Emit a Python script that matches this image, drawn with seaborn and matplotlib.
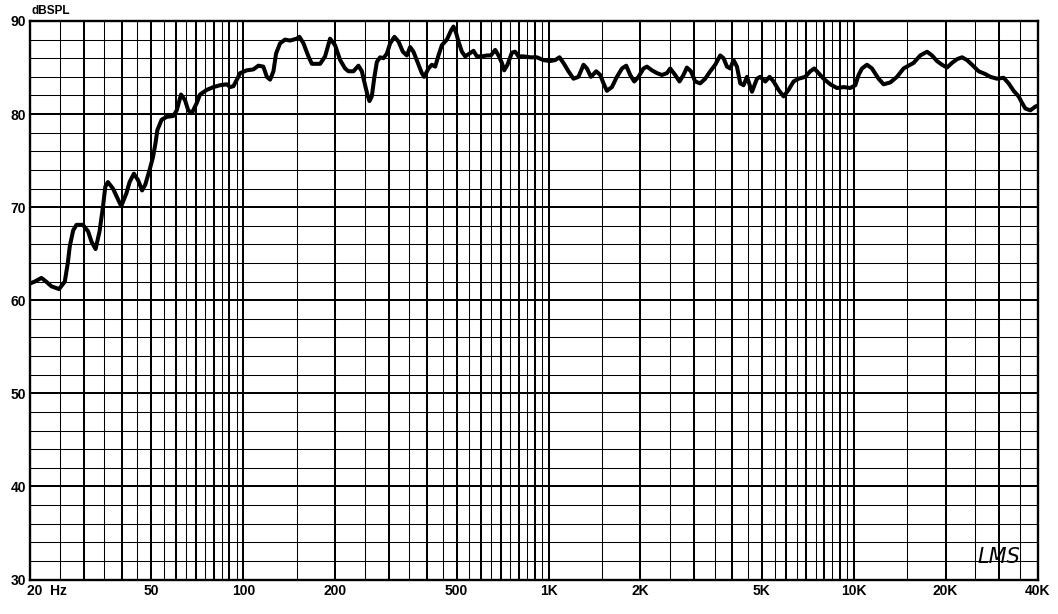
import numpy as np
import pandas as pd
import matplotlib
matplotlib.use("Agg")
import matplotlib.pyplot as plt
from matplotlib.ticker import NullLocator
import seaborn as sns

# ---------------- data ----------------
freq_hz = [20, 20.7, 21.8, 22.6, 23.5, 24.9, 26.0, 26.6, 27.0, 27.7, 28.4, 29.8, 31.0, 31.8,
           32.8, 33.8, 34.7, 35.3, 36.0, 37.4, 38.9, 39.8, 41.4, 42.4, 43.8, 45.2, 46.6, 47.7,
           49.3, 50.6, 51.5, 52.3, 54.0, 56.1, 59.0, 60.5, 62.5, 64.4, 66.0, 67.8, 70.4, 72.1,
           75.9, 79.8, 83.9, 88.3, 90.5, 92.8, 95.6, 97.6, 102.6, 107.9, 112.0, 116.3, 119.4,
           122.4, 125.5, 128.0, 131.9, 137.0, 142.3, 145.9, 149.7, 152.7, 157.4, 163.4, 167.7,
           178.5, 185.3, 192.4, 199.8, 207.6, 215.5, 221.0, 229.5, 238.3, 244.5, 250.6, 255.0,
           258.9, 263.6, 268.3, 273.8, 280.7, 287.8, 295.3, 302.7, 312.7, 322.3, 333.2, 343.4,
           352.0, 360.9, 372.0, 384.5, 391.3, 404.2, 414.7, 425.2, 435.9, 447.2, 464.4, 479.7,
           488.1, 498.2, 506.9, 520.1, 533.2, 550.8, 567.6, 582.4, 604.8, 628.1, 647.3, 668.7,
           685.5, 703.3, 715.6, 733.6, 758.4, 777.5, 797.1, 827.8, 870.7, 915.8, 962.5, 1012,
           1051, 1086, 1119, 1162, 1207, 1253, 1302, 1336, 1377, 1433, 1477, 1514, 1553, 1613,
           1675, 1740, 1797, 1852, 1909, 1971, 2047, 2101, 2182, 2266, 2353, 2443, 2504, 2600,
           2686, 2768, 2840, 2927, 3024, 3140, 3261, 3387, 3517, 3652, 3745, 3842, 3939, 4038,
           4143, 4248, 4355, 4468, 4640, 4818, 4940, 5130, 5299, 5462, 5671, 5889, 6115, 6350,
           6594, 6937, 7204, 7425, 7670, 7965, 8378, 8812, 9268, 9742, 10117, 10372, 10641,
           11050, 11475, 12061, 12525, 13173, 13856, 14564, 15123, 15705, 16520, 17377, 18045,
           18739, 19459, 20207, 20989, 21796, 22634, 23505, 24407, 25654, 26985, 28023, 29475,
           30981, 32172, 33410, 34695, 35597, 36494, 37895, 39351, 40000]

spl_db = [61.8, 62.0, 62.4, 62.0, 61.5, 61.2, 62.0, 64.0, 65.8, 67.5, 68.1, 68.1, 67.4, 66.3,
          65.5, 67.4, 70.1, 72.2, 72.7, 72.0, 70.8, 70.1, 71.5, 72.7, 73.6, 72.9, 71.8, 72.4,
          74.0, 75.4, 76.8, 78.3, 79.4, 79.7, 79.8, 80.4, 82.1, 81.5, 80.4, 80.1, 81.2, 82.1,
          82.6, 82.9, 83.1, 83.2, 82.9, 83.0, 83.8, 84.4, 84.7, 84.8, 85.2, 85.1, 84.0,
          83.7, 84.6, 86.5, 87.6, 88.0, 87.9, 88.0, 88.1, 88.3, 87.6, 86.2, 85.4,
          85.4, 86.2, 88.1, 87.4, 85.8, 84.9, 84.6, 84.6, 85.2, 84.6, 83.1, 82.1,
          81.4, 81.9, 83.8, 85.6, 86.1, 86.0, 86.5, 87.6, 88.3, 87.8, 86.7, 86.3,
          87.2, 86.7, 85.6, 84.4, 84.0, 84.9, 85.3, 85.1, 86.3, 87.4, 88.0, 89.0,
          89.4, 88.7, 87.8, 86.7, 86.2, 86.5, 86.8, 86.2, 86.2, 86.3, 86.3, 86.9,
          86.3, 85.5, 84.7, 85.3, 86.6, 86.7, 86.2, 86.2, 86.1, 86.1, 85.8, 85.7,
          85.8, 86.1, 85.5, 84.6, 83.8, 84.0, 85.3, 84.9, 84.0, 84.6, 84.2, 83.3, 82.5, 82.9,
          84.0, 84.9, 85.2, 84.2, 83.5, 84.0, 84.9, 85.1, 84.7, 84.4, 84.2, 84.4, 84.9, 84.2,
          83.5, 84.2, 85.0, 84.6, 83.5, 83.3, 83.8, 84.6, 85.3, 86.3, 86.0, 85.1, 84.9, 85.8,
          85.1, 83.3, 83.1, 84.0, 82.4, 83.8, 84.0, 83.5, 84.0, 83.5, 82.6, 81.9, 82.6, 83.5,
          83.8, 84.0, 84.6, 84.9, 84.4, 83.8, 83.2, 82.8, 82.9, 82.8, 83.1, 84.2, 84.9,
          85.3, 84.9, 83.8, 83.2, 83.4, 84.0, 84.9, 85.2, 85.5, 86.3, 86.7, 86.3,
          85.7, 85.3, 85.0, 85.5, 85.9, 86.1, 85.8, 85.3, 84.6, 84.3, 84.0, 83.8,
          83.9, 83.3, 82.5, 81.9, 81.2, 80.6, 80.4, 80.8, 80.9]

x_tick_values = [20, 50, 100, 200, 500, 1000, 2000, 5000, 10000, 20000, 40000]
x_tick_labels = ["20  Hz", "50", "100", "200", "500", "1K", "2K", "5K", "10K", "20K", "40K"]
y_tick_values = [30, 40, 50, 60, 70, 80, 90]
y_tick_labels = ["30", "40", "50", "60", "70", "80", "90"]

# ---------------- style ----------------
sns.set_theme(style="white")
plt.rcParams["font.family"] = ["Liberation Sans", "DejaVu Sans"]

W, H = 1058, 614
fig = plt.figure(figsize=(W / 100, H / 100), dpi=100)
fig.patch.set_facecolor("white")
L, R, T, B = 30, 1037.5, 21, 579.5
ax = fig.add_axes([L / W, 1 - B / H, (R - L) / W, (B - T) / H])
ax.set_facecolor("white")
ax.set_xscale("log")
ax.set_xlim(20, 40000)
ax.set_ylim(30, 90)

# grid (LMS style): 0.5*decade steps between 2D and 10D, one line at 15D
thick_lw, thin_lw = 1.45, 0.75
for D in [10, 100, 1000, 10000]:
    for m in np.arange(2.5, 10.01, 0.5):
        f = m * D
        if f <= 20 or f >= 40000:
            continue
        lw = thick_lw if float(m).is_integer() else thin_lw
        ax.axvline(f, color="black", lw=lw, zorder=1)
    f15 = 15 * D
    if f15 < 40000:
        ax.axvline(f15, color="black", lw=thin_lw, zorder=1)
    if 20 < 20 * D < 40000:
        ax.axvline(20 * D, color="black", lw=thick_lw, zorder=1)
for yv in range(32, 90, 2):
    ax.axhline(yv, color="black", lw=thick_lw if yv % 10 == 0 else thin_lw, zorder=1)

# curve
df = pd.DataFrame({"freq": freq_hz, "spl": spl_db})
sns.lineplot(data=df, x="freq", y="spl", ax=ax, color="black", linewidth=2.9,
             zorder=5, solid_joinstyle="round", solid_capstyle="round", sort=False)

ax.set_xlabel("")
ax.set_ylabel("")
for s in ax.spines.values():
    s.set_visible(True)
    s.set_color("black")
    s.set_linewidth(1.7)
    s.set_zorder(6)

ax.xaxis.set_minor_locator(NullLocator())
ax.set_xticks([])
ax.set_yticks(y_tick_values)
ax.set_yticklabels(y_tick_labels, fontsize=10, fontweight="bold", color="black")
ax.tick_params(axis="y", length=0, pad=3)

xtr = ax.get_xaxis_transform()
lab_y = -11.5 / (B - T)
for f, lab in zip(x_tick_values, x_tick_labels):
    if f == 20:
        ax.text(-3.3 / (R - L), lab_y, lab, transform=ax.transAxes, ha="left", va="center",
                fontsize=10, fontweight="bold", color="black")
    else:
        ax.text(f, lab_y, lab, transform=xtr, ha="center", va="center",
                fontsize=10, fontweight="bold", color="black", clip_on=False)

fig.text(31 / W, 1 - 10.5 / H, "dBSPL", ha="left", va="center", fontsize=8.5,
         fontweight="bold", color="black")

ax.text(30000, 32.4, "LMS", ha="center", va="center", fontsize=15, style="italic",
        family=["DejaVu Sans"], fontweight="light", color="black", zorder=7)

fig.savefig("out.png", dpi=100, facecolor="white")
